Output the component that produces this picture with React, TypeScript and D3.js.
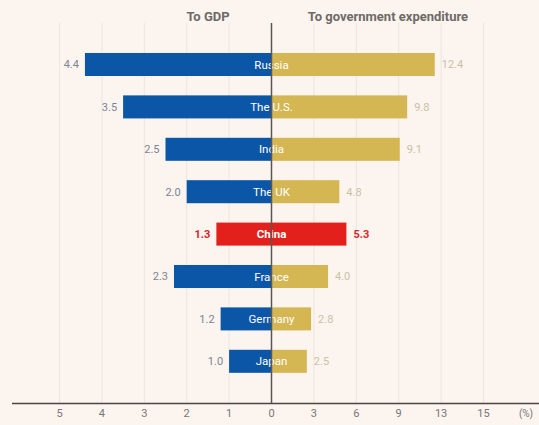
import React from "react";
import * as d3 from "d3";

const countries = ["Russia", "The U.S.", "India", "The UK", "China", "France", "Germany", "Japan"];
const toGDP = [4.4, 3.5, 2.5, 2.0, 1.3, 2.3, 1.2, 1.0];
const toGovExp = [12.4, 9.8, 9.1, 4.8, 5.3, 4.0, 2.8, 2.5];
const leftTicks = [5, 4, 3, 2, 1];
const rightTickValues = [3, 6, 9, 13, 15];
const rightTickLabels = ["3", "6", "9", "13", "15"];
const highlight = "China";

const W = 539;
const H = 425;
const X0 = 271.5;
const STEP = 42.4;
const FONT = "Roboto, 'DejaVu Sans', sans-serif";

export default function App() {
  const xLeft = d3.scaleLinear().domain([0, 5]).range([X0, X0 - 5 * STEP]);
  const rightDomain = [0, ...rightTickValues];
  const xRight = d3
    .scaleLinear()
    .domain(rightDomain)
    .range(rightDomain.map((_, i) => X0 + i * STEP));
  const y = d3
    .scaleBand<string>()
    .domain(countries)
    .range([43.3, 43.3 + 8 * 42.4])
    .paddingInner(0.457)
    .paddingOuter(0.2285);
  const bw = y.bandwidth();
  const axisY = 403.5;
  const gridTop = 23;

  return (
    <svg
      width={W}
      height={H}
      style={{ position: "absolute", left: 0, top: 0, background: "#fbf4ef" }}
    >
      <rect x={0} y={0} width={W} height={H} fill="#fbf4ef" />
      {/* grid */}
      {leftTicks.map((t) => (
        <line key={"gl" + t} x1={xLeft(t)} x2={xLeft(t)} y1={gridTop} y2={axisY} stroke="#ede5df" strokeWidth={1} />
      ))}
      {rightTickValues.map((t) => (
        <line key={"gr" + t} x1={xRight(t)} x2={xRight(t)} y1={gridTop} y2={axisY} stroke="#ede5df" strokeWidth={1} />
      ))}
      {/* headers */}
      <text x={208} y={21} textAnchor="middle" fontFamily={FONT} fontWeight={700} fontSize={13} fill="#6e6a68">
        To GDP
      </text>
      <text x={388} y={21} textAnchor="middle" fontFamily={FONT} fontWeight={700} fontSize={13} fill="#6e6a68">
        To government expenditure
      </text>
      {/* bars */}
      {countries.map((c, i) => {
        const yy = y(c)!;
        const isH = c === highlight;
        const cy = yy + bw / 2;
        return (
          <g key={c}>
            <rect
              x={xLeft(toGDP[i])}
              y={yy}
              width={X0 - xLeft(toGDP[i])}
              height={bw}
              fill={isH ? "#e3201b" : "#0b56a6"}
            />
            <rect
              x={X0}
              y={yy}
              width={xRight(toGovExp[i]) - X0}
              height={bw}
              fill={isH ? "#e3201b" : "#d4b653"}
            />
            <text
              x={xLeft(toGDP[i]) - 6}
              y={cy}
              dy="0.35em"
              textAnchor="end"
              fontFamily={FONT}
              fontSize={11}
              fontWeight={isH ? 700 : 400}
              fill={isH ? "#d9262a" : "#7e8494"}
            >
              {toGDP[i].toFixed(1)}
            </text>
            <text
              x={xRight(toGovExp[i]) + 7}
              y={cy}
              dy="0.35em"
              textAnchor="start"
              fontFamily={FONT}
              fontSize={11}
              fontWeight={isH ? 700 : 400}
              fill={isH ? "#d9262a" : "#cbc2a4"}
            >
              {toGovExp[i].toFixed(1)}
            </text>
            <text
              x={X0}
              y={cy}
              dy="0.35em"
              textAnchor="middle"
              fontFamily={FONT}
              fontSize={11.5}
              fontWeight={isH ? 700 : 400}
              fill="#ffffff"
            >
              {c}
            </text>
          </g>
        );
      })}
      {/* center line */}
      <line x1={X0} x2={X0} y1={gridTop} y2={axisY} stroke="#5a5656" strokeWidth={1.5} />
      {/* axis */}
      <line x1={12} x2={W} y1={axisY} y2={axisY} stroke="#4a4646" strokeWidth={1.5} />
      {[...leftTicks, 0].map((t) => (
        <text key={"lt" + t} x={xLeft(t)} y={417} textAnchor="middle" fontFamily={FONT} fontSize={11} fill="#7a7676">
          {t}
        </text>
      ))}
      {rightTickValues.map((t, i) => (
        <text key={"rt" + t} x={xRight(t)} y={417} textAnchor="middle" fontFamily={FONT} fontSize={11} fill="#7a7676">
          {rightTickLabels[i]}
        </text>
      ))}
      <text x={526} y={417} textAnchor="middle" fontFamily={FONT} fontSize={10} fill="#7a7676">
        (%)
      </text>
    </svg>
  );
}
